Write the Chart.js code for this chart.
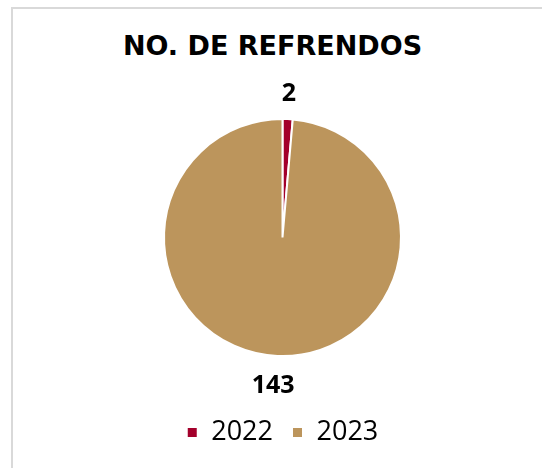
<!DOCTYPE html>
<html lang="es">
<head>
    <meta charset="UTF-8">
    <title>No. de refrendos</title>
    <script src="https://cdn.jsdelivr.net/npm/chart.js"></script>
    <style>
        body { margin: 0; background: #fff; overflow: hidden; }
        .marco { position: absolute; left: 11px; top: 7px; width: 600px; height: 520px; border: 2px solid #d9d9d9; }
        h2 { position: absolute; left: 0; width: 545px; top: 30px; margin: 0; text-align: center;
             font: bold 27px "DejaVu Sans", sans-serif; color: #000; }
        canvas { position: absolute; left: 0; top: 0; }
    </style>
</head>
<body>
    <div class="marco"></div>
    <h2>NO. DE REFRENDOS</h2>
    <div style="position:absolute;left:0;top:0;width:542px;height:468px;">
        <canvas id="refrendosChart"></canvas>
    </div>

    <script>
        const years = ['2022', '2023'];
        const refrendos = [2, 143];
        const colores = ['#A3002B', '#BC955C'];

        // etiquetas con el valor fuera de cada rebanada
        const valueLabels = {
            id: 'valueLabels',
            afterDatasetsDraw(chart) {
                const ctx = chart.ctx;
                const meta = chart.getDatasetMeta(0);
                ctx.save();
                ctx.font = 'bold 25px "Open Sans", sans-serif';
                ctx.fillStyle = '#000';
                ctx.textAlign = 'center';
                ctx.textBaseline = 'middle';
                meta.data.forEach((arc, i) => {
                    const p = arc.getProps(['x', 'y', 'startAngle', 'endAngle', 'outerRadius'], true);
                    const mid = (p.startAngle + p.endAngle) / 2;
                    const r = p.outerRadius + 27.5;
                    const dx = Math.cos(mid) < 0 || Math.sin(mid) > 0.9 ? -3 : 0;
                    ctx.fillText(refrendos[i], p.x + Math.cos(mid) * r + dx, p.y + Math.sin(mid) * r + 2.7);
                });
                ctx.restore();
            }
        };

        new Chart(document.getElementById('refrendosChart'), {
            type: 'pie',
            data: {
                labels: years,
                datasets: [{
                    data: refrendos,
                    backgroundColor: colores,
                    borderColor: '#fff',
                    borderWidth: 2
                }]
            },
            options: {
                responsive: true,
                maintainAspectRatio: false,
                animation: false,
                layout: { padding: { left: 163, right: 140, top: 75, bottom: 12 } },
                plugins: {
                    title: { display: false },
                    tooltip: { enabled: false },
                    legend: {
                        position: 'bottom',
                        labels: {
                            boxWidth: 11,
                            boxHeight: 11,
                            padding: 19,
                            color: '#000',
                            font: { family: '"Open Sans", sans-serif', size: 27 }
                        }
                    }
                }
            },
            plugins: [valueLabels]
        });
    </script>
</body>
</html>
